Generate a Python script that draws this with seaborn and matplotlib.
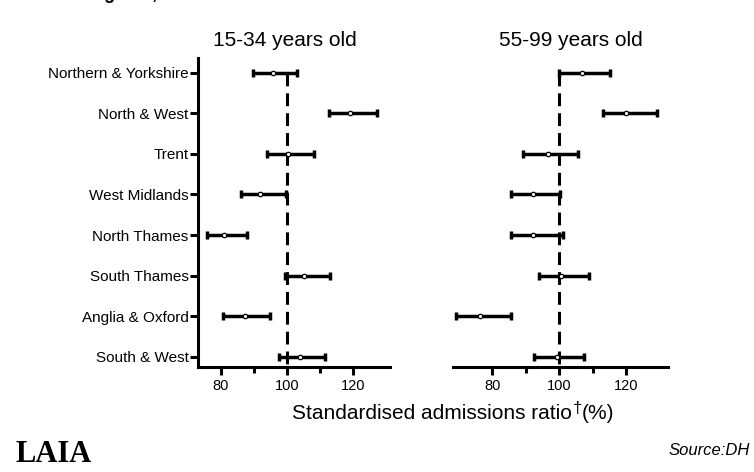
import numpy as np
import pandas as pd
import matplotlib.pyplot as plt
import seaborn as sns

# regions, top to bottom
regions = ["Northern & Yorkshire", "North & West", "Trent", "West Midlands",
           "North Thames", "South Thames", "Anglia & Oxford", "South & West"]

# 15-34 years old: ratio and 95% limits
young_ratio = [95.9, 119.2, 100.4, 91.7, 80.8, 105.1, 87.3, 104.1]
young_low = [89.8, 112.7, 93.9, 86.1, 75.8, 99.3, 80.5, 97.7]
young_high = [103.0, 127.3, 108.3, 99.8, 87.9, 113.0, 94.9, 111.5]

# 55-99 years old
old_ratio = [106.7, 119.8, 96.5, 92.0, 92.0, 100.4, 76.3, 99.2]
old_low = [100.0, 113.1, 89.3, 85.5, 85.5, 93.9, 69.2, 92.3]
old_high = [115.1, 129.2, 105.7, 100.2, 101.2, 108.9, 85.6, 107.4]

panel_titles = ["15-34 years old", "55-99 years old"]
x_ticks = [80, 100, 120]
x_minor = [90, 110]
reference = 100

sns.set_style("white")
plt.rcParams['font.family'] = ['Liberation Sans', 'DejaVu Sans']
plt.rcParams['text.color'] = 'black'
plt.rcParams['xtick.color'] = 'black'
plt.rcParams['ytick.color'] = 'black'
plt.rcParams['xtick.labelcolor'] = 'black'
plt.rcParams['ytick.labelcolor'] = 'black'

W, H = 754, 472
fig = plt.figure(figsize=(W / 100, H / 100), dpi=100)


def box(x0, x1, y0, y1):
    return [x0 / W, 1 - y1 / H, (x1 - x0) / W, (y1 - y0) / H]


ax1 = fig.add_axes(box(198, 390, 58, 367))
ax2 = fig.add_axes(box(452.7, 668, 58, 367))

pos = np.arange(len(regions))
lw = 2.2

panels = [
    (ax1, young_ratio, young_low, young_high, (73.0, 131.3)),
    (ax2, old_ratio, old_low, old_high, (68.2, 132.4)),
]

for ax, ratio, low, high, xlim in panels:
    df = pd.DataFrame({'region': regions, 'pos': pos, 'ratio': ratio,
                       'low': low, 'high': high})
    ax.vlines(reference, 0, 7.25, colors='black', linewidth=lw,
              linestyles=(0, (4.2, 2.3)), zorder=1)
    ax.errorbar(df['ratio'], df['pos'],
                xerr=[df['ratio'] - df['low'], df['high'] - df['ratio']],
                fmt='none', ecolor='black', elinewidth=lw + 0.3, capsize=3.0,
                capthick=lw + 0.3, zorder=2)
    sns.scatterplot(data=df, x='ratio', y='pos', ax=ax, s=10, color='white',
                    edgecolor='black', linewidth=0.9, zorder=3, legend=False)
    ax.set_xlim(*xlim)
    ax.set_ylim(7.25, -0.36)
    ax.set_xticks(x_ticks)
    ax.set_xticks(x_minor, minor=True)
    ax.set_xticklabels([str(t) for t in x_ticks])
    ax.tick_params(axis='x', which='major', length=5.8, width=lw, pad=2.5,
                   labelsize=10.5, bottom=True, color='black')
    ax.tick_params(axis='x', which='minor', length=4.3, width=lw, bottom=True,
                   color='black')
    ax.set_xlabel('')
    ax.set_ylabel('')
    ax.set_facecolor('none')
    for side in ['top', 'right']:
        ax.spines[side].set_visible(False)
    ax.spines['bottom'].set_linewidth(lw)
    ax.spines['bottom'].set_color('black')
    ax.spines['left'].set_linewidth(lw)
    ax.spines['left'].set_color('black')

ax1.set_yticks(pos)
ax1.set_yticklabels(regions)
ax1.tick_params(axis='y', length=5.8, width=lw, pad=1, labelsize=11, left=True,
                color='black')
ax2.spines['left'].set_visible(False)
ax2.set_yticks([])

# panel titles
fig.text(285 / W, 1 - 46 / H, panel_titles[0], ha='center', va='baseline',
         fontsize=15)
fig.text(571 / W, 1 - 46 / H, panel_titles[1], ha='center', va='baseline',
         fontsize=15)

# axis label with dagger
fig.text(572 / W, 1 - 419 / H, 'Standardised admissions ratio', ha='right',
         va='baseline', fontsize=15)
fig.text(577.5 / W, 1 - 413 / H, '\u2020', ha='center', va='baseline',
         fontsize=12)
fig.text(582 / W, 1 - 419 / H, '(%)', ha='left', va='baseline', fontsize=15)

# title cut off at the very top (as in the original), logo and source
fig.text(82 / W, 1 + 1 / H, 'England,', ha='left', va='baseline',
         fontsize=13, fontweight='bold')
fig.text(15 / W, 1 - 462 / H, 'LAIA', ha='left', va='baseline', fontsize=22,
         fontweight='bold', family=['Liberation Serif', 'DejaVu Serif'])
fig.text(750 / W, 1 - 455 / H, 'Source:DH', ha='right', va='baseline',
         fontsize=12, style='italic')

fig.savefig('out.png', dpi=100)
